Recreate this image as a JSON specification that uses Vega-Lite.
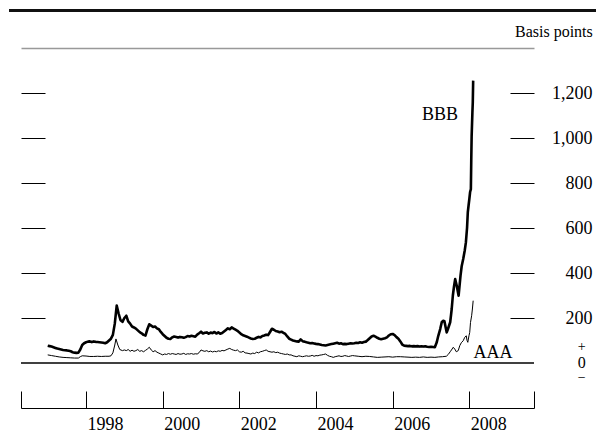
{
"$schema":"https://vega.github.io/schema/vega-lite/v6.json",
"width":513,"height":360,
"autosize":{"type":"none"},
"padding":{"left":21,"top":48,"right":62,"bottom":26},
"background":"white",
"config":{"view":{"stroke":null},"font":"Liberation Serif"},
"datasets":{"spreads":[
{"year":1997.00,"series":"BBB","bp":77},{"year":1997.05,"series":"BBB","bp":75},{"year":1997.10,"series":"BBB","bp":73},{"year":1997.15,"series":"BBB","bp":70},{"year":1997.20,"series":"BBB","bp":67},{"year":1997.25,"series":"BBB","bp":64},{"year":1997.30,"series":"BBB","bp":62},{"year":1997.35,"series":"BBB","bp":60},{"year":1997.40,"series":"BBB","bp":58},{"year":1997.45,"series":"BBB","bp":57},{"year":1997.50,"series":"BBB","bp":56},{"year":1997.55,"series":"BBB","bp":54},{"year":1997.60,"series":"BBB","bp":52},{"year":1997.65,"series":"BBB","bp":48},{"year":1997.70,"series":"BBB","bp":46},{"year":1997.75,"series":"BBB","bp":45},{"year":1997.80,"series":"BBB","bp":46},{"year":1997.85,"series":"BBB","bp":60},{"year":1997.90,"series":"BBB","bp":80},{"year":1997.95,"series":"BBB","bp":88},
{"year":1998.00,"series":"BBB","bp":92},{"year":1998.05,"series":"BBB","bp":95},{"year":1998.10,"series":"BBB","bp":96},{"year":1998.15,"series":"BBB","bp":93},{"year":1998.20,"series":"BBB","bp":96},{"year":1998.25,"series":"BBB","bp":94},{"year":1998.30,"series":"BBB","bp":93},{"year":1998.35,"series":"BBB","bp":92},{"year":1998.40,"series":"BBB","bp":91},{"year":1998.45,"series":"BBB","bp":90},{"year":1998.50,"series":"BBB","bp":88},{"year":1998.55,"series":"BBB","bp":92},{"year":1998.60,"series":"BBB","bp":100},{"year":1998.65,"series":"BBB","bp":108},{"year":1998.70,"series":"BBB","bp":125},{"year":1998.75,"series":"BBB","bp":175},{"year":1998.80,"series":"BBB","bp":255},{"year":1998.85,"series":"BBB","bp":220},{"year":1998.90,"series":"BBB","bp":190},{"year":1998.95,"series":"BBB","bp":183},
{"year":1999.00,"series":"BBB","bp":200},{"year":1999.05,"series":"BBB","bp":210},{"year":1999.10,"series":"BBB","bp":185},{"year":1999.15,"series":"BBB","bp":175},{"year":1999.20,"series":"BBB","bp":162},{"year":1999.25,"series":"BBB","bp":158},{"year":1999.30,"series":"BBB","bp":153},{"year":1999.35,"series":"BBB","bp":145},{"year":1999.40,"series":"BBB","bp":137},{"year":1999.45,"series":"BBB","bp":132},{"year":1999.50,"series":"BBB","bp":125},{"year":1999.55,"series":"BBB","bp":122},{"year":1999.60,"series":"BBB","bp":150},{"year":1999.65,"series":"BBB","bp":172},{"year":1999.70,"series":"BBB","bp":166},{"year":1999.75,"series":"BBB","bp":160},{"year":1999.80,"series":"BBB","bp":162},{"year":1999.85,"series":"BBB","bp":154},{"year":1999.90,"series":"BBB","bp":150},{"year":1999.95,"series":"BBB","bp":138},
{"year":2000.00,"series":"BBB","bp":128},{"year":2000.05,"series":"BBB","bp":120},{"year":2000.10,"series":"BBB","bp":112},{"year":2000.15,"series":"BBB","bp":108},{"year":2000.20,"series":"BBB","bp":107},{"year":2000.25,"series":"BBB","bp":114},{"year":2000.30,"series":"BBB","bp":118},{"year":2000.35,"series":"BBB","bp":116},{"year":2000.40,"series":"BBB","bp":113},{"year":2000.45,"series":"BBB","bp":116},{"year":2000.50,"series":"BBB","bp":114},{"year":2000.55,"series":"BBB","bp":112},{"year":2000.60,"series":"BBB","bp":115},{"year":2000.65,"series":"BBB","bp":120},{"year":2000.70,"series":"BBB","bp":118},{"year":2000.75,"series":"BBB","bp":121},{"year":2000.80,"series":"BBB","bp":119},{"year":2000.85,"series":"BBB","bp":117},{"year":2000.90,"series":"BBB","bp":126},{"year":2000.95,"series":"BBB","bp":132},
{"year":2001.00,"series":"BBB","bp":139},{"year":2001.05,"series":"BBB","bp":131},{"year":2001.10,"series":"BBB","bp":134},{"year":2001.15,"series":"BBB","bp":136},{"year":2001.20,"series":"BBB","bp":130},{"year":2001.25,"series":"BBB","bp":135},{"year":2001.30,"series":"BBB","bp":133},{"year":2001.35,"series":"BBB","bp":138},{"year":2001.40,"series":"BBB","bp":131},{"year":2001.45,"series":"BBB","bp":136},{"year":2001.50,"series":"BBB","bp":130},{"year":2001.55,"series":"BBB","bp":133},{"year":2001.60,"series":"BBB","bp":140},{"year":2001.65,"series":"BBB","bp":147},{"year":2001.70,"series":"BBB","bp":154},{"year":2001.75,"series":"BBB","bp":150},{"year":2001.80,"series":"BBB","bp":158},{"year":2001.85,"series":"BBB","bp":153},{"year":2001.90,"series":"BBB","bp":148},{"year":2001.95,"series":"BBB","bp":143},
{"year":2002.00,"series":"BBB","bp":136},{"year":2002.05,"series":"BBB","bp":128},{"year":2002.10,"series":"BBB","bp":123},{"year":2002.15,"series":"BBB","bp":120},{"year":2002.20,"series":"BBB","bp":117},{"year":2002.25,"series":"BBB","bp":113},{"year":2002.30,"series":"BBB","bp":109},{"year":2002.35,"series":"BBB","bp":107},{"year":2002.40,"series":"BBB","bp":108},{"year":2002.45,"series":"BBB","bp":112},{"year":2002.50,"series":"BBB","bp":116},{"year":2002.55,"series":"BBB","bp":114},{"year":2002.60,"series":"BBB","bp":120},{"year":2002.65,"series":"BBB","bp":122},{"year":2002.70,"series":"BBB","bp":126},{"year":2002.75,"series":"BBB","bp":124},{"year":2002.80,"series":"BBB","bp":138},{"year":2002.85,"series":"BBB","bp":152},{"year":2002.90,"series":"BBB","bp":148},{"year":2002.95,"series":"BBB","bp":142},
{"year":2003.00,"series":"BBB","bp":140},{"year":2003.05,"series":"BBB","bp":137},{"year":2003.10,"series":"BBB","bp":139},{"year":2003.15,"series":"BBB","bp":134},{"year":2003.20,"series":"BBB","bp":129},{"year":2003.25,"series":"BBB","bp":118},{"year":2003.30,"series":"BBB","bp":108},{"year":2003.35,"series":"BBB","bp":104},{"year":2003.40,"series":"BBB","bp":100},{"year":2003.45,"series":"BBB","bp":98},{"year":2003.50,"series":"BBB","bp":96},{"year":2003.55,"series":"BBB","bp":95},{"year":2003.60,"series":"BBB","bp":105},{"year":2003.65,"series":"BBB","bp":97},{"year":2003.70,"series":"BBB","bp":95},{"year":2003.75,"series":"BBB","bp":92},{"year":2003.80,"series":"BBB","bp":90},{"year":2003.85,"series":"BBB","bp":88},{"year":2003.90,"series":"BBB","bp":89},{"year":2003.95,"series":"BBB","bp":87},
{"year":2004.00,"series":"BBB","bp":85},{"year":2004.05,"series":"BBB","bp":84},{"year":2004.10,"series":"BBB","bp":82},{"year":2004.15,"series":"BBB","bp":80},{"year":2004.20,"series":"BBB","bp":79},{"year":2004.25,"series":"BBB","bp":78},{"year":2004.30,"series":"BBB","bp":80},{"year":2004.35,"series":"BBB","bp":82},{"year":2004.40,"series":"BBB","bp":84},{"year":2004.45,"series":"BBB","bp":86},{"year":2004.50,"series":"BBB","bp":88},{"year":2004.55,"series":"BBB","bp":90},{"year":2004.60,"series":"BBB","bp":86},{"year":2004.65,"series":"BBB","bp":88},{"year":2004.70,"series":"BBB","bp":84},{"year":2004.75,"series":"BBB","bp":85},{"year":2004.80,"series":"BBB","bp":84},{"year":2004.85,"series":"BBB","bp":86},{"year":2004.90,"series":"BBB","bp":88},{"year":2004.95,"series":"BBB","bp":87},
{"year":2005.00,"series":"BBB","bp":88},{"year":2005.05,"series":"BBB","bp":90},{"year":2005.10,"series":"BBB","bp":89},{"year":2005.15,"series":"BBB","bp":92},{"year":2005.20,"series":"BBB","bp":90},{"year":2005.25,"series":"BBB","bp":93},{"year":2005.30,"series":"BBB","bp":95},{"year":2005.35,"series":"BBB","bp":102},{"year":2005.40,"series":"BBB","bp":110},{"year":2005.45,"series":"BBB","bp":118},{"year":2005.50,"series":"BBB","bp":121},{"year":2005.55,"series":"BBB","bp":117},{"year":2005.60,"series":"BBB","bp":112},{"year":2005.65,"series":"BBB","bp":108},{"year":2005.70,"series":"BBB","bp":106},{"year":2005.75,"series":"BBB","bp":108},{"year":2005.80,"series":"BBB","bp":110},{"year":2005.85,"series":"BBB","bp":114},{"year":2005.90,"series":"BBB","bp":122},{"year":2005.95,"series":"BBB","bp":128},
{"year":2006.00,"series":"BBB","bp":129},{"year":2006.05,"series":"BBB","bp":124},{"year":2006.10,"series":"BBB","bp":115},{"year":2006.15,"series":"BBB","bp":108},{"year":2006.20,"series":"BBB","bp":96},{"year":2006.25,"series":"BBB","bp":82},{"year":2006.30,"series":"BBB","bp":77},{"year":2006.35,"series":"BBB","bp":76},{"year":2006.40,"series":"BBB","bp":75},{"year":2006.45,"series":"BBB","bp":76},{"year":2006.50,"series":"BBB","bp":74},{"year":2006.55,"series":"BBB","bp":75},{"year":2006.60,"series":"BBB","bp":74},{"year":2006.65,"series":"BBB","bp":75},{"year":2006.70,"series":"BBB","bp":73},{"year":2006.75,"series":"BBB","bp":74},{"year":2006.80,"series":"BBB","bp":73},{"year":2006.85,"series":"BBB","bp":74},{"year":2006.90,"series":"BBB","bp":72},{"year":2006.95,"series":"BBB","bp":71},
{"year":2007.00,"series":"BBB","bp":72},{"year":2007.05,"series":"BBB","bp":71},{"year":2007.10,"series":"BBB","bp":70},{"year":2007.15,"series":"BBB","bp":92},{"year":2007.19,"series":"BBB","bp":121},{"year":2007.24,"series":"BBB","bp":151},{"year":2007.28,"series":"BBB","bp":181},{"year":2007.32,"series":"BBB","bp":188},{"year":2007.35,"series":"BBB","bp":186},{"year":2007.38,"series":"BBB","bp":160},{"year":2007.41,"series":"BBB","bp":136},{"year":2007.44,"series":"BBB","bp":150},{"year":2007.50,"series":"BBB","bp":181},{"year":2007.52,"series":"BBB","bp":210},{"year":2007.54,"series":"BBB","bp":240},{"year":2007.57,"series":"BBB","bp":300},{"year":2007.60,"series":"BBB","bp":340},{"year":2007.63,"series":"BBB","bp":373},{"year":2007.67,"series":"BBB","bp":344},{"year":2007.72,"series":"BBB","bp":299},{"year":2007.77,"series":"BBB","bp":388},{"year":2007.80,"series":"BBB","bp":430},{"year":2007.84,"series":"BBB","bp":462},{"year":2007.88,"series":"BBB","bp":500},{"year":2007.91,"series":"BBB","bp":536},{"year":2007.94,"series":"BBB","bp":600},{"year":2007.96,"series":"BBB","bp":670},{"year":2007.98,"series":"BBB","bp":700},{"year":2008.00,"series":"BBB","bp":729},{"year":2008.02,"series":"BBB","bp":760},{"year":2008.04,"series":"BBB","bp":773},{"year":2008.05,"series":"BBB","bp":900},{"year":2008.06,"series":"BBB","bp":1008},{"year":2008.08,"series":"BBB","bp":1114},{"year":2008.09,"series":"BBB","bp":1159},{"year":2008.10,"series":"BBB","bp":1255},
{"year":1997.00,"series":"AAA","bp":36},{"year":1997.10,"series":"AAA","bp":33},{"year":1997.20,"series":"AAA","bp":30},{"year":1997.30,"series":"AAA","bp":27},{"year":1997.40,"series":"AAA","bp":25},{"year":1997.50,"series":"AAA","bp":24},{"year":1997.60,"series":"AAA","bp":23},{"year":1997.70,"series":"AAA","bp":22},{"year":1997.80,"series":"AAA","bp":22},{"year":1997.85,"series":"AAA","bp":28},{"year":1997.90,"series":"AAA","bp":32},
{"year":1998.00,"series":"AAA","bp":31},{"year":1998.10,"series":"AAA","bp":29},{"year":1998.20,"series":"AAA","bp":29},{"year":1998.30,"series":"AAA","bp":30},{"year":1998.40,"series":"AAA","bp":29},{"year":1998.50,"series":"AAA","bp":30},{"year":1998.60,"series":"AAA","bp":30},{"year":1998.65,"series":"AAA","bp":32},{"year":1998.70,"series":"AAA","bp":45},{"year":1998.75,"series":"AAA","bp":80},{"year":1998.78,"series":"AAA","bp":107},{"year":1998.83,"series":"AAA","bp":80},{"year":1998.88,"series":"AAA","bp":60},{"year":1998.95,"series":"AAA","bp":55},
{"year":1999.00,"series":"AAA","bp":58},{"year":1999.05,"series":"AAA","bp":55},{"year":1999.10,"series":"AAA","bp":60},{"year":1999.15,"series":"AAA","bp":52},{"year":1999.20,"series":"AAA","bp":57},{"year":1999.25,"series":"AAA","bp":52},{"year":1999.30,"series":"AAA","bp":55},{"year":1999.35,"series":"AAA","bp":60},{"year":1999.40,"series":"AAA","bp":52},{"year":1999.45,"series":"AAA","bp":55},{"year":1999.50,"series":"AAA","bp":50},{"year":1999.55,"series":"AAA","bp":56},{"year":1999.60,"series":"AAA","bp":62},{"year":1999.65,"series":"AAA","bp":70},{"year":1999.70,"series":"AAA","bp":58},{"year":1999.75,"series":"AAA","bp":50},{"year":1999.80,"series":"AAA","bp":55},{"year":1999.85,"series":"AAA","bp":48},{"year":1999.90,"series":"AAA","bp":44},{"year":1999.95,"series":"AAA","bp":40},
{"year":2000.00,"series":"AAA","bp":36},{"year":2000.05,"series":"AAA","bp":40},{"year":2000.10,"series":"AAA","bp":38},{"year":2000.15,"series":"AAA","bp":42},{"year":2000.20,"series":"AAA","bp":39},{"year":2000.25,"series":"AAA","bp":42},{"year":2000.30,"series":"AAA","bp":40},{"year":2000.35,"series":"AAA","bp":38},{"year":2000.40,"series":"AAA","bp":42},{"year":2000.45,"series":"AAA","bp":39},{"year":2000.50,"series":"AAA","bp":40},{"year":2000.55,"series":"AAA","bp":43},{"year":2000.60,"series":"AAA","bp":38},{"year":2000.65,"series":"AAA","bp":41},{"year":2000.70,"series":"AAA","bp":40},{"year":2000.75,"series":"AAA","bp":42},{"year":2000.80,"series":"AAA","bp":39},{"year":2000.85,"series":"AAA","bp":41},{"year":2000.90,"series":"AAA","bp":40},{"year":2000.95,"series":"AAA","bp":46},
{"year":2001.00,"series":"AAA","bp":58},{"year":2001.05,"series":"AAA","bp":54},{"year":2001.10,"series":"AAA","bp":52},{"year":2001.15,"series":"AAA","bp":55},{"year":2001.20,"series":"AAA","bp":50},{"year":2001.25,"series":"AAA","bp":53},{"year":2001.30,"series":"AAA","bp":49},{"year":2001.35,"series":"AAA","bp":52},{"year":2001.40,"series":"AAA","bp":50},{"year":2001.45,"series":"AAA","bp":54},{"year":2001.50,"series":"AAA","bp":52},{"year":2001.55,"series":"AAA","bp":56},{"year":2001.60,"series":"AAA","bp":54},{"year":2001.65,"series":"AAA","bp":58},{"year":2001.70,"series":"AAA","bp":62},{"year":2001.75,"series":"AAA","bp":65},{"year":2001.80,"series":"AAA","bp":60},{"year":2001.85,"series":"AAA","bp":57},{"year":2001.90,"series":"AAA","bp":55},{"year":2001.95,"series":"AAA","bp":58},
{"year":2002.00,"series":"AAA","bp":50},{"year":2002.05,"series":"AAA","bp":48},{"year":2002.10,"series":"AAA","bp":52},{"year":2002.15,"series":"AAA","bp":45},{"year":2002.20,"series":"AAA","bp":44},{"year":2002.25,"series":"AAA","bp":42},{"year":2002.30,"series":"AAA","bp":40},{"year":2002.35,"series":"AAA","bp":44},{"year":2002.40,"series":"AAA","bp":42},{"year":2002.45,"series":"AAA","bp":48},{"year":2002.50,"series":"AAA","bp":45},{"year":2002.55,"series":"AAA","bp":50},{"year":2002.60,"series":"AAA","bp":52},{"year":2002.65,"series":"AAA","bp":55},{"year":2002.70,"series":"AAA","bp":58},{"year":2002.75,"series":"AAA","bp":52},{"year":2002.80,"series":"AAA","bp":50},{"year":2002.85,"series":"AAA","bp":48},{"year":2002.90,"series":"AAA","bp":50},{"year":2002.95,"series":"AAA","bp":46},
{"year":2003.00,"series":"AAA","bp":48},{"year":2003.05,"series":"AAA","bp":44},{"year":2003.10,"series":"AAA","bp":42},{"year":2003.15,"series":"AAA","bp":40},{"year":2003.20,"series":"AAA","bp":38},{"year":2003.25,"series":"AAA","bp":40},{"year":2003.30,"series":"AAA","bp":36},{"year":2003.35,"series":"AAA","bp":36},{"year":2003.40,"series":"AAA","bp":32},{"year":2003.45,"series":"AAA","bp":30},{"year":2003.50,"series":"AAA","bp":28},{"year":2003.55,"series":"AAA","bp":32},{"year":2003.60,"series":"AAA","bp":30},{"year":2003.65,"series":"AAA","bp":28},{"year":2003.70,"series":"AAA","bp":30},{"year":2003.75,"series":"AAA","bp":32},{"year":2003.80,"series":"AAA","bp":30},{"year":2003.85,"series":"AAA","bp":31},{"year":2003.90,"series":"AAA","bp":34},{"year":2003.95,"series":"AAA","bp":30},
{"year":2004.00,"series":"AAA","bp":33},{"year":2004.05,"series":"AAA","bp":32},{"year":2004.10,"series":"AAA","bp":35},{"year":2004.15,"series":"AAA","bp":36},{"year":2004.20,"series":"AAA","bp":38},{"year":2004.25,"series":"AAA","bp":40},{"year":2004.30,"series":"AAA","bp":34},{"year":2004.35,"series":"AAA","bp":30},{"year":2004.40,"series":"AAA","bp":28},{"year":2004.45,"series":"AAA","bp":25},{"year":2004.50,"series":"AAA","bp":28},{"year":2004.55,"series":"AAA","bp":30},{"year":2004.60,"series":"AAA","bp":32},{"year":2004.65,"series":"AAA","bp":29},{"year":2004.70,"series":"AAA","bp":30},{"year":2004.75,"series":"AAA","bp":33},{"year":2004.80,"series":"AAA","bp":31},{"year":2004.85,"series":"AAA","bp":29},{"year":2004.90,"series":"AAA","bp":31},{"year":2004.95,"series":"AAA","bp":33},
{"year":2005.00,"series":"AAA","bp":32},{"year":2005.10,"series":"AAA","bp":30},{"year":2005.20,"series":"AAA","bp":28},{"year":2005.30,"series":"AAA","bp":30},{"year":2005.40,"series":"AAA","bp":29},{"year":2005.50,"series":"AAA","bp":27},{"year":2005.60,"series":"AAA","bp":25},{"year":2005.70,"series":"AAA","bp":26},{"year":2005.80,"series":"AAA","bp":27},{"year":2005.90,"series":"AAA","bp":28},
{"year":2006.00,"series":"AAA","bp":26},{"year":2006.10,"series":"AAA","bp":28},{"year":2006.20,"series":"AAA","bp":28},{"year":2006.30,"series":"AAA","bp":27},{"year":2006.40,"series":"AAA","bp":26},{"year":2006.50,"series":"AAA","bp":25},{"year":2006.60,"series":"AAA","bp":26},{"year":2006.70,"series":"AAA","bp":25},{"year":2006.80,"series":"AAA","bp":27},{"year":2006.90,"series":"AAA","bp":25},
{"year":2007.00,"series":"AAA","bp":26},{"year":2007.10,"series":"AAA","bp":25},{"year":2007.20,"series":"AAA","bp":27},{"year":2007.30,"series":"AAA","bp":28},{"year":2007.40,"series":"AAA","bp":30},{"year":2007.45,"series":"AAA","bp":38},{"year":2007.50,"series":"AAA","bp":50},{"year":2007.55,"series":"AAA","bp":62},{"year":2007.58,"series":"AAA","bp":70},{"year":2007.62,"series":"AAA","bp":62},{"year":2007.66,"series":"AAA","bp":50},{"year":2007.71,"series":"AAA","bp":55},{"year":2007.75,"series":"AAA","bp":77},{"year":2007.79,"series":"AAA","bp":90},{"year":2007.84,"series":"AAA","bp":99},{"year":2007.88,"series":"AAA","bp":114},{"year":2007.92,"series":"AAA","bp":121},{"year":2007.94,"series":"AAA","bp":100},{"year":2007.96,"series":"AAA","bp":92},{"year":2007.99,"series":"AAA","bp":121},{"year":2008.01,"series":"AAA","bp":136},{"year":2008.03,"series":"AAA","bp":180},{"year":2008.06,"series":"AAA","bp":210},{"year":2008.08,"series":"AAA","bp":240},{"year":2008.10,"series":"AAA","bp":277}
]},
"resolve":{"axis":{"x":"independent","y":"independent"}},
"layer":[
{
"data":{"name":"spreads"},
"mark":{"type":"line","color":"#000","strokeJoin":"round"},
"encoding":{
"x":{"field":"year","type":"quantitative","scale":{"domain":[1996.303,2009.687],"nice":false,"zero":false},
"axis":{"orient":"bottom","values":[1996.303,1997,1998,1999,2000,2001,2002,2003,2004,2005,2006,2007,2008,2009,2009.687],"tickSize":-17,"tickColor":"#000","tickWidth":1,"domainColor":"#000","domainWidth":1,"format":"d","labelExpr":"datum.value % 2 === 0 ? datum.label : ''","labelOffset":19,"labelPadding":38,"labelBaseline":"alphabetic","labelFont":"Liberation Serif","labelFontSize":18,"labelColor":"#000","labelFlush":false,"labelOverlap":false,"labelBound":false,"grid":false,"title":null}},
"y":{"field":"bp","type":"quantitative","scale":{"domain":[-200,1400],"nice":false,"zero":false},
"axis":{"orient":"right","values":[200,400,600,800,1000,1200],"tickSize":-24,"tickColor":"#000","tickWidth":1,"domain":false,"format":",d","labelAlign":"right","labelBaseline":"middle","labelPadding":82,"labelFont":"Liberation Serif","labelFontSize":18,"labelColor":"#000","labelFlush":false,"labelOverlap":false,"labelBound":false,"grid":false,"title":null}},
"strokeWidth":{"field":"series","type":"nominal","scale":{"domain":["BBB","AAA"],"range":[2.6,1]},"legend":null}
}
},
{
"data":{"values":[{}]},
"mark":{"type":"rule","color":"#000","strokeWidth":1.5},
"encoding":{
"x":{"datum":1996.303,"type":"quantitative","axis":{"orient":"top","domain":true,"domainColor":"#999","domainWidth":1.6,"ticks":false,"labels":false,"grid":false,"title":null}},
"x2":{"datum":2009.687},
"y":{"datum":0,"type":"quantitative","axis":{"orient":"left","values":[200,400,600,800,1000,1200],"tickSize":-24,"tickColor":"#000","tickWidth":1,"domain":false,"labels":false,"grid":false,"title":null}}
}
},
{
"data":{"values":[{}]},
"mark":{"type":"rule","color":"#111","strokeWidth":3,"clip":false},
"encoding":{
"x":{"datum":1995.99,"type":"quantitative","axis":null},
"x2":{"datum":2011.4},
"y":{"datum":1566.7,"type":"quantitative","axis":null}
}
},
{
"data":{"values":[{}]},
"mark":{"type":"text","text":"BBB","font":"Liberation Serif","fontSize":18,"align":"center","baseline":"alphabetic","color":"#000","clip":false},
"encoding":{"x":{"datum":2007.235,"type":"quantitative","axis":null},"y":{"datum":1080,"type":"quantitative","axis":null}}
},
{
"data":{"values":[{}]},
"mark":{"type":"text","text":"AAA","font":"Liberation Serif","fontSize":18,"align":"center","baseline":"alphabetic","color":"#000","clip":false},
"encoding":{"x":{"datum":2008.62,"type":"quantitative","axis":null},"y":{"datum":22,"type":"quantitative","axis":null}}
},
{
"data":{"values":[{}]},
"mark":{"type":"text","text":"+","font":"Liberation Serif","fontSize":14,"align":"center","baseline":"middle","color":"#000","clip":false},
"encoding":{"x":{"datum":2010.93,"type":"quantitative","axis":null},"y":{"datum":72,"type":"quantitative","axis":null}}
},
{
"data":{"values":[{}]},
"mark":{"type":"text","text":"0","font":"Liberation Serif","fontSize":16,"align":"center","baseline":"middle","color":"#000","clip":false},
"encoding":{"x":{"datum":2010.93,"type":"quantitative","axis":null},"y":{"datum":-2,"type":"quantitative","axis":null}}
},
{
"data":{"values":[{}]},
"mark":{"type":"text","text":"−","font":"Liberation Serif","fontSize":14,"align":"center","baseline":"middle","color":"#000","clip":false},
"encoding":{"x":{"datum":2010.93,"type":"quantitative","axis":null},"y":{"datum":-68,"type":"quantitative","axis":null}}
},
{
"data":{"values":[{}]},
"mark":{"type":"text","text":"Basis points","font":"Liberation Serif","fontSize":16,"align":"right","baseline":"alphabetic","color":"#000","clip":false},
"encoding":{"x":{"datum":2011.22,"type":"quantitative","axis":null},"y":{"datum":1450,"type":"quantitative","axis":null}}
}
]
}
